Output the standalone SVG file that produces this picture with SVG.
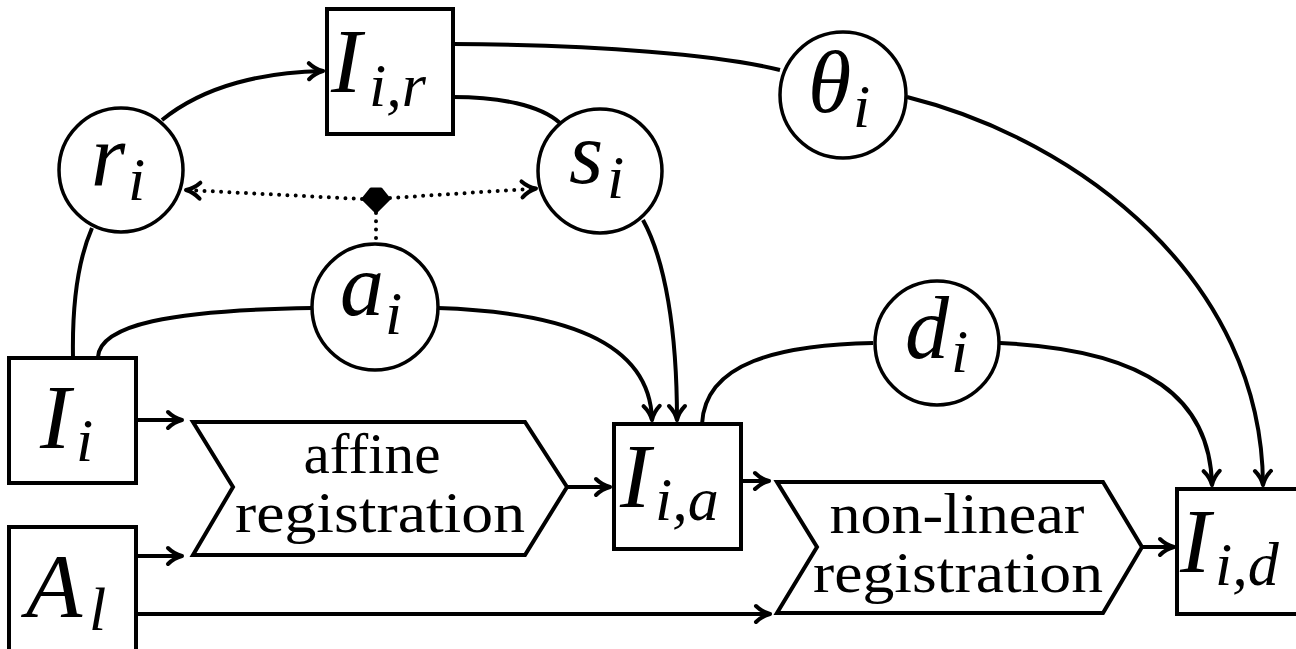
<svg xmlns="http://www.w3.org/2000/svg" width="1296" height="649" viewBox="0 0 1296 649">
<defs>
<style>
.box{fill:#fff;stroke:#000;stroke-width:4}
.circ{fill:#fff;stroke:#000;stroke-width:3.5}
.chev{fill:#fff;stroke:#000;stroke-width:4;stroke-linejoin:miter}
.edge{fill:none;stroke:#000;stroke-width:4}
.dot{fill:none;stroke:#000;stroke-width:4;stroke-dasharray:0 8.3;stroke-linecap:round}
.m{font-family:"Liberation Serif","DejaVu Serif",serif;font-style:italic;fill:#000}
.big{font-size:92px}
.low{font-size:88px}
.sub{font-size:62px}
.lab{font-family:"Liberation Serif","DejaVu Serif",serif;font-size:56px;fill:#000;text-anchor:middle}
</style>
<marker id="arr" viewBox="-18 -11 22 22" refX="0" refY="0" markerWidth="22" markerHeight="22" markerUnits="userSpaceOnUse" orient="auto">
<path d="M-14,-8 C-9,-3 -4,-1 0,0 C-4,1 -9,3 -14,8" fill="none" stroke="#000" stroke-width="4" stroke-linecap="round" stroke-linejoin="round" stroke-dasharray="none"/>
</marker>
</defs>
<rect width="1296" height="649" fill="#fff"/>

<g id="connectors">
<path class="edge" d="M162,120 C205,85 265,72 323,71" marker-end="url(#arr)"/>
<path class="edge" d="M453,44 C600,45 720,55 780,70"/>
<path class="edge" d="M907,97 C1080,140 1262,280 1263,485" marker-end="url(#arr)"/>
<path class="edge" d="M453,97 C500,97 540,105 560,123"/>
<path class="edge" d="M643,220 C665,260 677,330 677,420" marker-end="url(#arr)"/>
<path class="edge" d="M73,357 C72,300 78,260 92,228"/>
<path class="edge" d="M98,357 C100,325 170,310 312,308"/>
<path class="edge" d="M438,308 C560,312 650,340 652,420" marker-end="url(#arr)"/>
<path class="edge" d="M702,424 C705,362 780,345 873,343"/>
<path class="edge" d="M1000,343 C1150,350 1210,400 1212,485" marker-end="url(#arr)"/>
<path class="edge" d="M136,420 L182,420" marker-end="url(#arr)"/>
<path class="edge" d="M136,556 L182,556" marker-end="url(#arr)"/>
<path class="edge" d="M136,614 L770,614" marker-end="url(#arr)"/>
<path class="edge" d="M567,487 L610,487" marker-end="url(#arr)"/>
<path class="edge" d="M741,481 L769,481" marker-end="url(#arr)"/>
<path class="edge" d="M1142,547 L1174,547" marker-end="url(#arr)"/>
<path class="dot" d="M362,199 L186,190" marker-end="url(#arr)"/>
<path class="dot" d="M390,198 L536,188.5" marker-end="url(#arr)"/>
<path class="dot" d="M376,213 L376,242"/>
<polygon points="363,199 371,189 381,189 389,199 376,212" fill="#000" stroke="#000" stroke-width="3" stroke-linejoin="round"/>
</g>

<g id="node-Iir">
<rect class="box" x="327" y="9" width="126" height="125"/>
<text class="m big" x="331" y="92">I</text>
<text class="m sub" x="369" y="106">i,r</text>
</g>
<g id="node-ri">
<circle class="circ" cx="121" cy="170" r="62"/>
<text class="m low" x="91" y="185">r</text>
<text class="m sub" x="128" y="200">i</text>
</g>
<g id="node-si">
<circle class="circ" cx="600" cy="171" r="62"/>
<text class="m low" x="569" y="183">s</text>
<text class="m sub" x="607" y="198">i</text>
</g>
<g id="node-theta">
<circle class="circ" cx="843" cy="95" r="63"/>
<text class="m low" x="808" y="112">θ</text>
<text class="m sub" x="853" y="127">i</text>
</g>
<g id="node-ai">
<circle class="circ" cx="375" cy="307" r="63"/>
<text class="m low" x="340" y="315">a</text>
<text class="m sub" x="385" y="334">i</text>
</g>
<g id="node-di">
<circle class="circ" cx="937" cy="343" r="62"/>
<text class="m low" x="905" y="358">d</text>
<text class="m sub" x="951" y="372">i</text>
</g>
<g id="node-Ii">
<rect class="box" x="9" y="358" width="127" height="125"/>
<text class="m big" x="40" y="448">I</text>
<text class="m sub" x="76" y="461">i</text>
</g>
<g id="node-Al">
<rect class="box" x="9" y="527" width="127" height="130"/>
<text class="m big" x="26" y="617">A</text>
<text class="m sub" x="89" y="630">l</text>
</g>
<g id="node-affine">
<polygon class="chev" points="193,422 525,422 567,487 525,555 193,555 233,487"/>
<text class="lab" x="372" y="473" textLength="137" lengthAdjust="spacingAndGlyphs">affine</text>
<text class="lab" x="380" y="532" textLength="290" lengthAdjust="spacingAndGlyphs">registration</text>
</g>
<g id="node-Iia">
<rect class="box" x="614" y="424" width="127" height="125"/>
<text class="m big" x="620" y="507">I</text>
<text class="m sub" x="655" y="520">i,a</text>
</g>
<g id="node-nonlinear">
<polygon class="chev" points="777,482 1103,482 1142,547 1103,613 777,613 817,547"/>
<text class="lab" x="957" y="533" textLength="255" lengthAdjust="spacingAndGlyphs">non-linear</text>
<text class="lab" x="958" y="592" textLength="290" lengthAdjust="spacingAndGlyphs">registration</text>
</g>
<g id="node-Iid">
<rect class="box" x="1177" y="489" width="130" height="125"/>
<text class="m big" x="1180" y="572">I</text>
<text class="m sub" x="1215" y="585">i,d</text>
</g>
</svg>
